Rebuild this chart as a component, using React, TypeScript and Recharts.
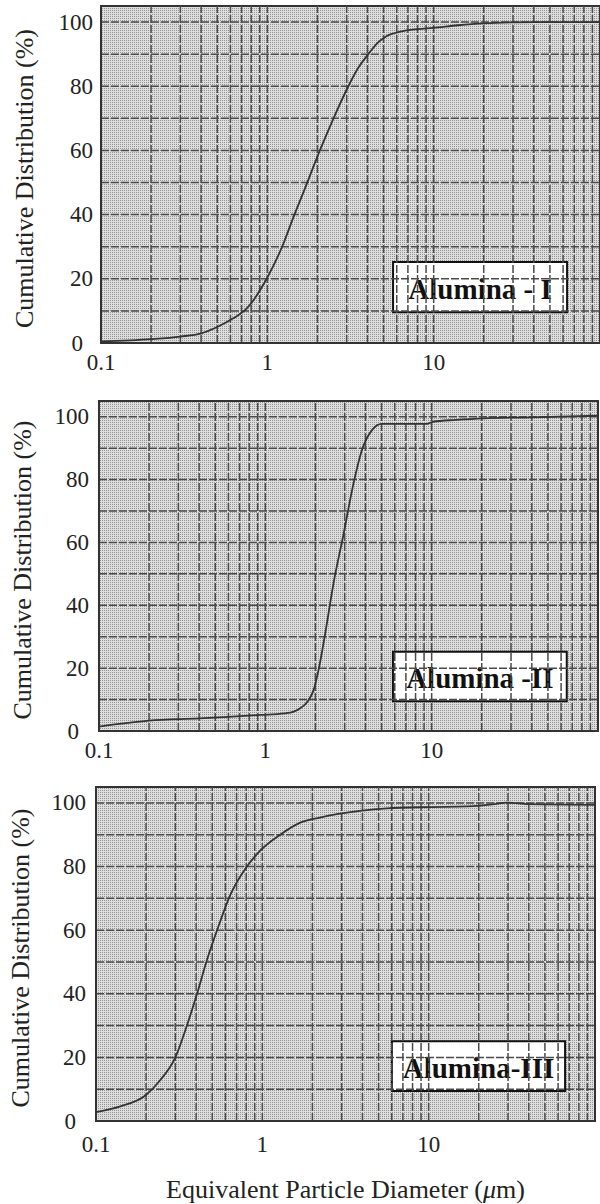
import React from "react";
import {
  LineChart,
  Line,
  XAxis,
  YAxis,
  CartesianGrid,
  ReferenceLine,
  ReferenceArea,
} from "recharts";

const FONT = "'Liberation Serif', 'Times New Roman', serif";

// particle diameter (um) and cumulative distribution (%)
const ALUMINA_I_D = [0.1, 0.2, 0.3, 0.4, 0.5, 0.62, 0.75, 1.0, 1.25, 1.43, 1.65, 2.07, 2.5, 3.07, 3.5, 4.05, 4.6, 5.2, 6.3, 8, 9.9, 14, 20, 30, 50, 100];
const ALUMINA_I_V = [0.5, 1.2, 2.0, 3.0, 5.0, 7.6, 10.7, 20.4, 31, 39, 47, 60, 70, 80, 85.5, 90, 93.5, 95.6, 97, 97.8, 98.2, 99, 99.6, 99.9, 100, 100];

const ALUMINA_II_D = [0.1, 0.2, 0.4, 0.6, 0.93, 1.3, 1.47, 1.63, 1.8, 1.95, 2.1, 2.29, 2.57, 2.96, 3.39, 3.81, 4.39, 5.0, 6, 9.35, 10.2, 14, 20.5, 40, 100];
const ALUMINA_II_V = [1.4, 3.3, 4.0, 4.5, 5.1, 5.6, 6.1, 7.3, 9.5, 13, 20, 31, 47, 62.9, 78.8, 89.4, 95.8, 97.7, 97.7, 97.7, 98.4, 99, 99.5, 99.8, 100.3];

const ALUMINA_III_D = [0.1, 0.14, 0.198, 0.243, 0.3, 0.352, 0.405, 0.465, 0.543, 0.641, 0.808, 0.971, 1.28, 1.69, 2.22, 3.86, 5.6, 10, 17, 25, 29.5, 40, 100];
const ALUMINA_III_V = [2.8, 4.6, 8, 12.8, 20, 30, 40, 50.7, 61, 71, 80, 85, 90, 93.8, 95.4, 97.5, 98.3, 98.7, 98.9, 99.6, 100.1, 99.6, 99.4];

const X_TICKS = [0.1, 1, 10];
const Y_TICKS = [0, 20, 40, 60, 80, 100];
const GRID_X = [0.2, 0.3, 0.4, 0.5, 0.6, 0.7, 0.8, 0.9, 1, 2, 3, 4, 5, 6, 7, 8, 9, 10, 20, 30, 40, 50, 60, 70, 80, 90];
const GRID_Y = [10, 20, 30, 40, 50, 60, 70, 80, 90, 100];

const toRows = (d: number[], v: number[]) => d.map((x, i) => ({ d: x, v: v[i] }));

const PANELS = [
  {
    id: "p1", name: "Alumina - I", rows: toRows(ALUMINA_I_D, ALUMINA_I_V),
    top: 0, height: 390, margin: { top: 6, right: 0, left: 0, bottom: 0 },
    yWidth: 101, xHeight: 47, xTickMargin: 11, yTickMargin: 8, titleX: 24,
    box: [5.7, 63.4, 9.6, 25.2],
  },
  {
    id: "p2", name: "Alumina -II", rows: toRows(ALUMINA_II_D, ALUMINA_II_V),
    top: 390, height: 390, margin: { top: 11, right: 2, left: 0, bottom: 0 },
    yWidth: 99, xHeight: 49, xTickMargin: 11, yTickMargin: 10, titleX: 22,
    box: [5.85, 64.9, 9.5, 25.2],
  },
  {
    id: "p3", name: "Alumina-III", rows: toRows(ALUMINA_III_D, ALUMINA_III_V),
    top: 780, height: 424, margin: { top: 7, right: 5, left: 0, bottom: 0 },
    yWidth: 96, xHeight: 83, xTickMargin: 15, yTickMargin: 10, titleX: 20,
    box: [6.01, 66.1, 9.4, 25.1], xTitle: true,
  },
];

function YTitle({ viewBox, cx }: any) {
  const cy = viewBox.y + viewBox.height / 2 + 4;
  return (
    <text
      x={cx}
      y={cy}
      transform={`rotate(-90 ${cx} ${cy})`}
      textAnchor="middle"
      dominantBaseline="central"
      fontFamily={FONT}
      fontSize={26}
      fill="#222"
    >
      Cumulative Distribution (%)
    </text>
  );
}

function XTitle({ viewBox }: any) {
  return (
    <text
      x={viewBox.x + viewBox.width / 2}
      y={viewBox.y + 77}
      textAnchor="middle"
      fontFamily={FONT}
      fontSize={26}
      fill="#222"
    >
      Equivalent Particle Diameter (<tspan fontStyle="italic">μ</tspan>m)
    </text>
  );
}

// the zero label sits a little left of the others on the scan
function YTick({ x, y, payload }: any) {
  const dx = payload.value === 0 ? -10 : 0;
  return (
    <text x={x + dx} y={y} textAnchor="end" dominantBaseline="central" fontFamily={FONT} fontSize={23} fill="#222">
      {payload.value}
    </text>
  );
}

function BoxText({ viewBox, text }: any) {
  return (
    <text
      x={viewBox.x + viewBox.width / 2}
      y={viewBox.y + viewBox.height / 2 + 2}
      textAnchor="middle"
      dominantBaseline="central"
      fontFamily={FONT}
      fontWeight="bold"
      fontSize={29}
      fill="#111"
    >
      {text}
    </text>
  );
}

function Panel({ p }: any) {
  const tickStyle = { fontFamily: FONT, fontSize: 23, fill: "#222" };
  return (
    <div style={{ position: "absolute", left: 0, top: p.top }}>
      <LineChart width={600} height={p.height} data={p.rows} margin={p.margin}>
        <defs>
          <pattern id={`dots-${p.id}`} width="2" height="2" patternUnits="userSpaceOnUse">
            <rect width="2" height="2" fill="#dedede" />
            <rect width="1" height="1" fill="#939393" />
          </pattern>
        </defs>
        <CartesianGrid horizontal={false} vertical={false} fill={`url(#dots-${p.id})`} fillOpacity={1} />
        <XAxis
          dataKey="d"
          type="number"
          scale="log"
          domain={[0.1, 100]}
          allowDataOverflow
          ticks={X_TICKS}
          tickFormatter={(v: number) => String(v)}
          tickSize={0}
          tickMargin={p.xTickMargin}
          tick={tickStyle}
          height={p.xHeight}
          axisLine={{ stroke: "#333", strokeWidth: 2 }}
          label={p.xTitle ? (props: any) => <XTitle {...props} /> : undefined}
        />
        <YAxis
          type="number"
          domain={[0, 105]}
          allowDataOverflow
          ticks={Y_TICKS}
          tickSize={0}
          tickMargin={p.yTickMargin}
          tick={(props: any) => <YTick {...props} />}
          width={p.yWidth}
          axisLine={{ stroke: "#333", strokeWidth: 2 }}
          label={(props: any) => <YTitle {...props} cx={p.titleX} />}
        />
        {GRID_X.map((x) => (
          <ReferenceLine key={`gx${x}`} x={x} stroke="#4a4a4a" strokeWidth={1.5} strokeDasharray="8 2" />
        ))}
        {GRID_Y.map((y) => (
          <ReferenceLine key={`gy${y}`} y={y} stroke="#4a4a4a" strokeWidth={1.5} strokeDasharray="8 2" />
        ))}
        <ReferenceArea x1={0.1} x2={100} y1={0} y2={105} fill="none" stroke="#333" strokeWidth={2} />
        <Line
          type="monotone"
          dataKey="v"
          stroke="#333"
          strokeWidth={1.8}
          dot={false}
          isAnimationActive={false}
        />
        <ReferenceArea
          x1={p.box[0]}
          x2={p.box[1]}
          y1={p.box[2]}
          y2={p.box[3]}
          fill="#fff"
          fillOpacity={1}
          stroke="#111"
          strokeWidth={2}
          label={(props: any) => <BoxText {...props} text={p.name} />}
        />
      </LineChart>
    </div>
  );
}

export default function App() {
  return (
    <div style={{ position: "absolute", left: 0, top: 0, width: 600, height: 1204, background: "#fff" }}>
      {PANELS.map((p) => (
        <Panel key={p.id} p={p} />
      ))}
    </div>
  );
}
